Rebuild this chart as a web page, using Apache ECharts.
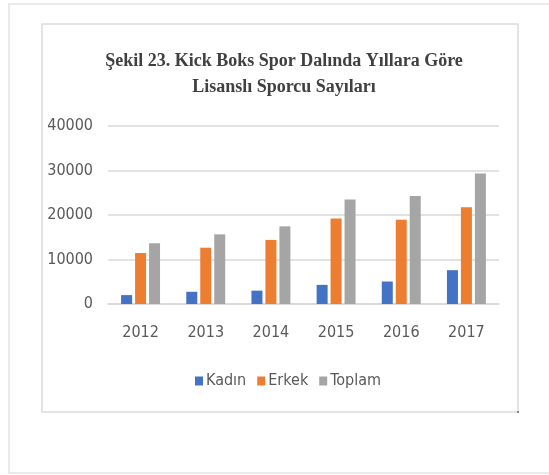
<!DOCTYPE html>
<html>
<head>
<meta charset="utf-8">
<title>Kick Boks</title>
<script src="https://cdn.jsdelivr.net/npm/echarts@6/dist/echarts.min.js"></script>
<style>
  html, body { margin: 0; padding: 0; background: #fff; }
  #chart { width: 549px; height: 475px; }
</style>
</head>
<body>
<div id="chart"></div>
<script>
// yillar ve sporcu sayilari
const years = ['2012', '2013', '2014', '2015', '2016', '2017']
const kadin = [2000, 2750, 3000, 4300, 5050, 7600]
const erkek = [11450, 12650, 14400, 19200, 18950, 21750]
const toplam = [13650, 15650, 17450, 23500, 24250, 29350]
const yTicks = [0, 10000, 20000, 30000, 40000]

const labelFont = '"DejaVu Sans Condensed", "Liberation Sans", sans-serif'

const chart = echarts.init(document.getElementById('chart'))

const barSeries = (name, data, color) => ({
  name: name,
  type: 'bar',
  data: data,
  barWidth: 11,
  barGap: '27%',
  itemStyle: { color: color }
})

chart.setOption({
  animation: false,
  title: {
    text: 'Şekil 23. Kick Boks Spor Dalında Yıllara Göre\nLisanslı Sporcu Sayıları',
    left: 279,
    top: 43,
    textAlign: 'center',
    textStyle: {
      fontFamily: '"Liberation Serif", serif',
      fontWeight: 'bold',
      fontSize: 18,
      lineHeight: 26,
      color: '#404040'
    }
  },
  graphic: [
    // dis cerceve
    {
      type: 'rect',
      shape: { x: 9, y: 4, width: 560, height: 469 },
      style: { fill: 'none', stroke: '#e3e3e3', lineWidth: 1.5 },
      silent: true
    },
    // grafik alani cercevesi
    {
      type: 'rect',
      shape: { x: 42, y: 24, width: 476, height: 388 },
      style: { fill: 'none', stroke: '#dcdcdc', lineWidth: 1.5 },
      silent: true
    },
    {
      type: 'rect',
      shape: { x: 517, y: 411, width: 2, height: 2 },
      style: { fill: '#888' },
      silent: true
    }
  ],
  grid: {
    left: 108,
    right: 50,
    top: 126,
    bottom: 171
  },
  legend: {
    data: ['Kadın', 'Erkek', 'Toplam'],
    left: 190,
    top: 368,
    itemWidth: 8,
    itemHeight: 9,
    itemGap: 11,
    icon: 'rect',
    textStyle: {
      fontFamily: labelFont,
      fontSize: 16,
      color: '#595959',
      padding: [0, 0, 0, -2]
    }
  },
  xAxis: {
    type: 'category',
    data: years,
    axisTick: { show: false },
    axisLine: { lineStyle: { color: '#d9d9d9', width: 1.5 } },
    axisLabel: {
      margin: 21,
      fontFamily: labelFont,
      fontSize: 16,
      color: '#595959'
    }
  },
  yAxis: {
    type: 'value',
    min: yTicks[0],
    max: yTicks[yTicks.length - 1],
    interval: yTicks[1] - yTicks[0],
    axisLine: { show: false },
    axisTick: { show: false },
    axisLabel: {
      margin: 15,
      fontFamily: labelFont,
      fontSize: 16,
      color: '#595959',
      formatter: v => String(v)
    },
    splitLine: { lineStyle: { color: '#d9d9d9', width: 1.5 } }
  },
  series: [
    barSeries('Kadın', kadin, '#4472c4'),
    barSeries('Erkek', erkek, '#ed7d31'),
    barSeries('Toplam', toplam, '#a5a5a5')
  ]
})
</script>
</body>
</html>
